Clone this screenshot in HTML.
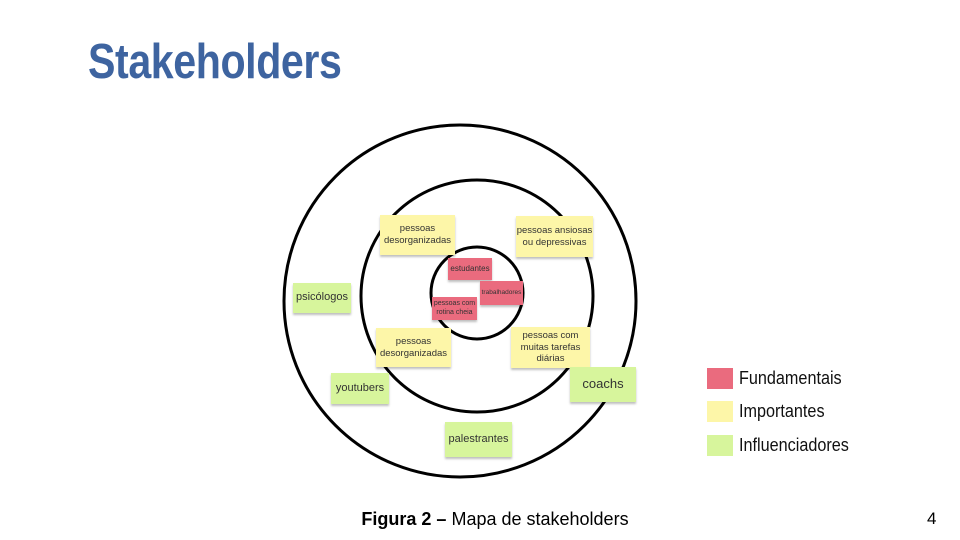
<!DOCTYPE html>
<html><head><meta charset="utf-8"><style>
body{margin:0;width:960px;height:540px;background:#fff;position:relative;overflow:hidden;font-family:"Liberation Sans",sans-serif}
.t{position:absolute;left:88px;top:34px;font-weight:bold;font-size:49px;color:#3e64a0;letter-spacing:-0.5px;transform:scaleX(0.84);transform-origin:0 0}
.n{position:absolute;display:flex;align-items:center;justify-content:center;text-align:center;color:#333;box-shadow:0 2px 2px rgba(0,0,0,.25);line-height:1.25}
.y{background:#fdf6a8}.g{background:#d7f59c}.r{background:#ea6b7e}
.l{position:absolute;left:707px;width:26px;height:21px}
.lt{position:absolute;left:739px;font-size:18px;color:#111;transform:scaleX(0.9);transform-origin:0 0}
</style></head><body>
<div class="t">Stakeholders</div>
<svg width="960" height="540" style="position:absolute;left:0;top:0">
<circle cx="460" cy="301" r="176" fill="none" stroke="#000" stroke-width="3"/>
<circle cx="477" cy="296" r="116" fill="none" stroke="#000" stroke-width="3"/>
<circle cx="477" cy="293" r="46" fill="none" stroke="#000" stroke-width="3"/>
</svg>
<div class="n y" style="left:380px;top:215px;width:75px;height:40px;font-size:9.5px">pessoas<br>desorganizadas</div>
<div class="n y" style="left:516px;top:216px;width:77px;height:41px;font-size:9.5px">pessoas ansiosas<br>ou depressivas</div>
<div class="n r" style="left:448px;top:258px;width:44px;height:22px;font-size:8px">estudantes</div>
<div class="n r" style="left:480px;top:281px;width:43px;height:24px;font-size:6.5px">trabalhadores</div>
<div class="n r" style="left:432px;top:297px;width:45px;height:23px;font-size:7px">pessoas com<br>rotina cheia</div>
<div class="n g" style="left:293px;top:283px;width:58px;height:30px;font-size:11px">psicólogos</div>
<div class="n y" style="left:376px;top:328px;width:75px;height:39px;font-size:9.5px">pessoas<br>desorganizadas</div>
<div class="n y" style="left:511px;top:327px;width:79px;height:41px;font-size:9.5px">pessoas com<br>muitas tarefas<br>diárias</div>
<div class="n g" style="left:331px;top:373px;width:58px;height:31px;font-size:11px">youtubers</div>
<div class="n g" style="left:570px;top:367px;width:66px;height:35px;font-size:13px">coachs</div>
<div class="n g" style="left:445px;top:422px;width:67px;height:35px;font-size:11px">palestrantes</div>
<div class="l r" style="top:368px"></div><div class="lt" style="top:368px">Fundamentais</div>
<div class="l y" style="top:401px"></div><div class="lt" style="top:401px">Importantes</div>
<div class="l g" style="top:435px"></div><div class="lt" style="top:435px">Influenciadores</div>
<div style="position:absolute;left:0;width:990px;top:509px;text-align:center;font-size:18px;color:#000"><b>Figura 2 –</b> Mapa de stakeholders</div>
<div style="position:absolute;left:927px;top:509px;font-size:17px">4</div>
</body></html>
